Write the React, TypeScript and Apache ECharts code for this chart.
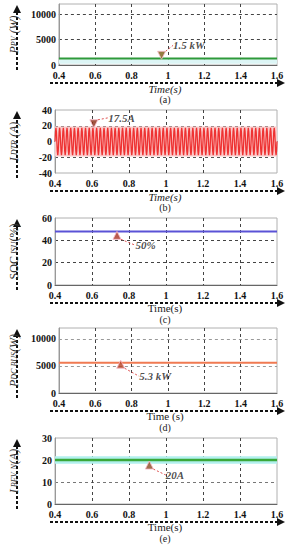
import React, { useEffect, useRef } from "react";
import * as echarts from "echarts";

// ---- data ----
const timeRange = [0.4, 1.6];
const timeInterval = 0.2;

const pvPower = [[0.4, 1300], [1.6, 1300]];
const pvMarker = [[0.965, 1900]];

const currentCycle = [0, 12.4, 17.5, 12.4, 0, -12.4, -17.5, -12.4];
const currentCycles = 60;
const currentMarker = [[0.61, 22.5]];

const socLevel = [[0.4, 48], [1.6, 48]];
const socMarker = [[0.735, 44.5]];

const busPower = [[0.4, 5600], [1.6, 5600]];
const busMarker = [[0.74, 5300]];

const bevCurrent = [[0.4, 20], [1.6, 20]];
const bevMarker = [[0.91, 17.7]];

const yRanges = [
  [0, 12000, 5000],
  [-40, 40, 20],
  [0, 60, 20],
  [0, 12000, 5000],
  [0, 30, 10],
];
const markerLabels = ["1.5 kW", "17.5A", "50%", "5.3 kW", "20A"];
const panelLetters = ["(a)", "(b)", "(c)", "(d)", "(e)"];
const timeNames = ["Time(s)", "Time(s)", "Time(s)", "Time (s)", "Time(s)"];

// ---- layout ----
const SERIF = "'Liberation Serif', 'Times New Roman', serif";
const gridTops = [4, 110, 218, 328, 438];
const gridHeights = [61, 63, 67, 65, 66];
const GL = 53;
const GW = 224;

function buildCurrent() {
  const pts: number[][] = [];
  const n = currentCycle.length * currentCycles;
  const span = timeRange[1] - timeRange[0];
  for (let c = 0; c < currentCycles; c++) {
    for (let i = 0; i < currentCycle.length; i++) {
      const k = c * currentCycle.length + i;
      pts.push([timeRange[0] + (k / n) * span, currentCycle[i]]);
    }
  }
  pts.push([timeRange[1], currentCycle[0]]);
  return pts;
}

export default function App() {
  const ref = useRef<HTMLDivElement>(null);
  useEffect(() => {
    if (!ref.current) return;
    const chart = echarts.init(ref.current, null, { renderer: "svg" });

    const grids = gridTops.map((t, i) => ({
      left: GL,
      width: GW,
      top: t,
      height: gridHeights[i],
      show: true,
      borderColor: "#b0b0b0",
      borderWidth: 1,
    }));

    const xAxes = gridTops.map((_, i) => ({
      type: "value",
      gridIndex: i,
      min: timeRange[0],
      max: timeRange[1],
      interval: timeInterval,
      axisLine: { show: true, lineStyle: { color: "#666", width: 1 } },
      axisTick: { show: false },
      axisLabel: {
        margin: 5,
        color: "#111",
        fontFamily: SERIF,
        fontWeight: "bold",
        fontSize: 10,
        formatter: (v: number) => String(Math.round(v * 10) / 10),
      },
      splitLine: {
        show: true,
        showMinLine: false,
        showMaxLine: false,
        lineStyle: { color: "#444", type: [3, 3], width: 1 },
      },
    }));

    const yNames = [
      "{i|P}{s|PV}{i| (W)}",
      "{i|I}{s| DTR}{i| (A)}",
      "{n|SOC}{s| ISU}{n|(%)}",
      "{i|P}{s|DC BUS}{i|(W)}",
      "{i|I}{s| BEV, N}{i|(A)}",
    ];
    const hColors = ["#444", "#555", "#444", "#999", "#777"];
    const yAxes = yRanges.map((r, i) => ({
      type: "value",
      gridIndex: i,
      min: r[0],
      max: r[1],
      interval: r[2],
      name: yNames[i],
      nameLocation: "middle",
      nameGap: 35,
      nameTextStyle: {
        rich: {
          i: { fontFamily: SERIF, fontStyle: "italic", fontSize: 12, color: "#333" },
          n: { fontFamily: SERIF, fontSize: 12, color: "#333" },
          s: { fontFamily: SERIF, fontStyle: "italic", fontSize: 8, color: "#333" },
        },
      },
      axisLine: { show: true, lineStyle: { color: "#999", width: 1 } },
      axisTick: { show: false },
      axisLabel: {
        margin: 3,
        color: "#111",
        fontFamily: SERIF,
        fontWeight: "bold",
        fontSize: 10,
        showMaxLabel: r[1] % r[2] === 0,
        formatter: (v: number) => String(v),
      },
      splitLine: {
        show: true,
        showMinLine: false,
        showMaxLine: false,
        lineStyle: { color: hColors[i], type: [3, 3], width: 1 },
      },
    }));

    const markerSeries = (
      data: number[][],
      idx: number,
      down: boolean,
      color: string,
      dx: number,
      dy: number
    ) => ({
      type: "scatter",
      xAxisIndex: idx,
      yAxisIndex: idx,
      data,
      symbol: "triangle",
      symbolSize: 8,
      symbolRotate: down ? 180 : 0,
      itemStyle: { color, borderColor: "#f6b8c8", borderWidth: 1 },
      z: 5,
      label: {
        show: true,
        position: "right",
        distance: 4,
        formatter: markerLabels[idx],
        fontFamily: SERIF,
        fontStyle: "italic",
        fontWeight: "bold",
        fontSize: 11,
        color: "#222",
      },
      labelLayout: { dx, dy },
      labelLine: {
        show: true,
        smooth: 0.6,
        lineStyle: { color: "#e05050", type: [2, 2], width: 1 },
      },
    });

    const series: any[] = [
      {
        type: "line",
        xAxisIndex: 0,
        yAxisIndex: 0,
        data: pvPower,
        showSymbol: false,
        lineStyle: { color: "#2e9a3a", width: 2 },
        markArea: {
          silent: true,
          itemStyle: { color: "#dcf5f5" },
          data: [[{ yAxis: 250 }, { yAxis: 1150 }]],
        },
      },
      {
        type: "line",
        xAxisIndex: 1,
        yAxisIndex: 1,
        data: buildCurrent(),
        showSymbol: false,
        lineStyle: { color: "#ee3232", width: 1.3 },
        markArea: {
          silent: true,
          itemStyle: { color: "#fbcaca" },
          data: [[{ yAxis: -19 }, { yAxis: 19 }]],
        },
      },
      {
        type: "line",
        xAxisIndex: 2,
        yAxisIndex: 2,
        data: socLevel,
        showSymbol: false,
        lineStyle: { color: "#5a52d6", width: 2 },
      },
      {
        type: "line",
        xAxisIndex: 3,
        yAxisIndex: 3,
        data: busPower,
        showSymbol: false,
        lineStyle: { color: "#f07a52", width: 2 },
      },
      {
        type: "line",
        xAxisIndex: 4,
        yAxisIndex: 4,
        data: bevCurrent,
        showSymbol: false,
        lineStyle: { color: "#3aa83a", width: 2.5 },
        markArea: {
          silent: true,
          itemStyle: { color: "#b2f0ee" },
          data: [[{ yAxis: 18.3 }, { yAxis: 21.7 }]],
        },
      },
      markerSeries(pvMarker, 0, true, "#7a5a12", 3, -10),
      markerSeries(currentMarker, 1, true, "#8a2a12", 6, -6),
      markerSeries(socMarker, 2, false, "#a83220", 10, 10),
      markerSeries(busMarker, 3, false, "#b44020", 10, 12),
      markerSeries(bevMarker, 4, false, "#8a4a20", 8, 10),
    ];

    const graphics: any[] = [];
    gridTops.forEach((t, i) => {
      const bottom = t + gridHeights[i];
      // vertical dashed arrow
      graphics.push({
        type: "line",
        shape: { x1: 17, y1: bottom + 5, x2: 17, y2: t + 6 },
        style: { stroke: "#111", lineWidth: 2, lineDash: [3, 2] },
      });
      graphics.push({
        type: "polygon",
        shape: { points: [[13, t + 9], [21, t + 9], [17, t + 1]] },
        style: { fill: "#111" },
      });
      // horizontal dashed arrow
      const ay = bottom + 18;
      graphics.push({
        type: "line",
        shape: { x1: 50, y1: ay, x2: 279, y2: ay },
        style: { stroke: "#111", lineWidth: 2, lineDash: [3, 2] },
      });
      graphics.push({
        type: "polygon",
        shape: { points: [[277, ay - 4], [277, ay + 4], [285, ay]] },
        style: { fill: "#111" },
      });
      const italic = i < 2;
      graphics.push({
        type: "text",
        x: GL + GW / 2,
        y: bottom + (italic ? 23.5 : 22.5),
        style: {
          text: timeNames[i],
          fontFamily: SERIF,
          fontStyle: italic ? "italic" : "normal",
          fontSize: 11,
          fill: "#222",
          textAlign: "center",
          textVerticalAlign: "middle",
        },
      });
      graphics.push({
        type: "text",
        x: GL + GW / 2,
        y: bottom + 34,
        style: {
          text: panelLetters[i],
          fontFamily: SERIF,
          fontSize: 10,
          fill: "#222",
          textAlign: "center",
          textVerticalAlign: "middle",
        },
      });
    });

    chart.setOption({
      animation: false,
      backgroundColor: "#ffffff",
      grid: grids,
      xAxis: xAxes,
      yAxis: yAxes,
      series,
      graphic: graphics,
    });
    return () => chart.dispose();
  }, []);

  return (
    <div
      ref={ref}
      style={{ position: "absolute", left: 0, top: 0, width: 288, height: 550 }}
    />
  );
}
